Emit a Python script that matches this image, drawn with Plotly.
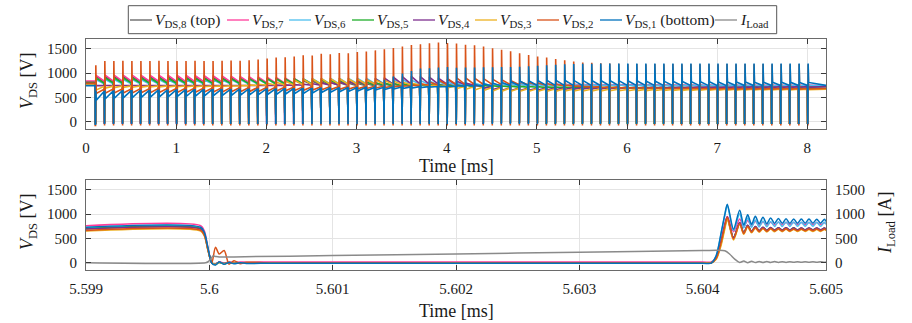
import plotly.graph_objects as go

# ================= DATA =================
names = ["<i>V</i><sub>DS,8</sub> (top)", "<i>V</i><sub>DS,7</sub>", "<i>V</i><sub>DS,6</sub>",
         "<i>V</i><sub>DS,5</sub>", "<i>V</i><sub>DS,4</sub>", "<i>V</i><sub>DS,3</sub>",
         "<i>V</i><sub>DS,2</sub>", "<i>V</i><sub>DS,1</sub> (bottom)"]
iload_name = "<i>I</i><sub>Load</sub>"

# switching instants of the top (ms) plot
pulse_t = [0.1, 0.2, 0.3, 0.4, 0.5, 0.6, 0.7, 0.8, 0.9, 1.0,
           1.1, 1.2, 1.3, 1.4, 1.5, 1.6, 1.7, 1.8, 1.9, 2.0,
           2.1, 2.2, 2.3, 2.4, 2.5, 2.6, 2.7, 2.8, 2.9, 3.0,
           3.1, 3.2, 3.3, 3.4, 3.5, 3.6, 3.7, 3.8, 3.9, 4.0,
           4.1, 4.2, 4.3, 4.4, 4.5, 4.6, 4.7, 4.8, 4.9, 5.0,
           5.1, 5.2, 5.3, 5.4, 5.5, 5.6, 5.7, 5.8, 5.9, 6.0,
           6.1, 6.2, 6.3, 6.4, 6.5, 6.6, 6.7, 6.8, 6.9, 7.0,
           7.1, 7.2, 7.3, 7.4, 7.5, 7.6, 7.7, 7.8, 7.9, 8.0]
t_end = 8.207

# initial voltage (t = 0) of VDS8 ... VDS1
v_init = [820, 835, 770, 805, 785, 760, 790, 740]
# lowest value reached during each on-state, VDS8 ... VDS1
v_on = [-30, -30, -30, -30, -30, -30, -80, -50]

# level right after each turn-off (P) and right before the next turn-on (Q), per device
P8 = [930, 925, 925, 925, 920, 920, 920, 915, 915, 915,
      910, 910, 905, 905, 900, 900, 895, 890, 885, 880,
      870, 860, 850, 840, 830, 820, 810, 800, 790, 785,
      780, 775, 770, 765, 760, 760, 755, 755, 750, 750,
      750, 755, 760, 765, 770, 775, 780, 780, 780, 780,
      775, 775, 770, 770, 765, 765, 760, 760, 760, 755,
      755, 750, 750, 750, 745, 745, 745, 740, 740, 740,
      740, 740, 735, 735, 735, 735, 730, 730, 730, 730]
Q8 = [815, 815, 815, 815, 812, 812, 810, 810, 810, 808,
      806, 805, 803, 800, 798, 795, 792, 790, 788, 785,
      780, 775, 770, 765, 760, 755, 750, 748, 745, 742,
      740, 740, 738, 738, 736, 736, 735, 735, 735, 735,
      735, 736, 738, 740, 742, 744, 745, 745, 745, 745,
      744, 743, 742, 741, 740, 740, 739, 738, 737, 736,
      735, 735, 734, 734, 733, 733, 732, 732, 731, 731,
      730, 730, 730, 730, 729, 729, 729, 728, 728, 728]
P7 = [950, 955, 955, 955, 955, 950, 950, 950, 950, 945,
      945, 940, 940, 935, 930, 925, 920, 915, 910, 905,
      900, 890, 880, 870, 860, 850, 840, 830, 820, 810,
      800, 795, 790, 785, 780, 780, 775, 775, 770, 770,
      770, 770, 770, 770, 770, 770, 770, 770, 770, 770,
      770, 770, 768, 768, 766, 766, 764, 764, 762, 762,
      760, 760, 758, 758, 756, 756, 755, 755, 754, 754,
      753, 753, 752, 752, 751, 751, 750, 750, 750, 750]
Q7 = [835, 838, 838, 838, 836, 836, 835, 835, 834, 833,
      832, 830, 828, 825, 822, 818, 814, 810, 805, 800,
      795, 790, 785, 780, 775, 770, 765, 760, 758, 755,
      752, 750, 748, 746, 745, 744, 743, 742, 741, 740,
      740, 741, 742, 743, 744, 745, 746, 746, 746, 746,
      745, 745, 745, 744, 744, 744, 743, 743, 743, 742,
      742, 742, 741, 741, 741, 740, 740, 740, 740, 739,
      739, 739, 738, 738, 738, 737, 737, 737, 736, 736]
P6 = [860, 865, 865, 865, 865, 862, 860, 860, 858, 858,
      856, 855, 855, 855, 856, 858, 860, 862, 865, 868,
      870, 872, 875, 878, 880, 882, 884, 886, 888, 888,
      886, 882, 878, 870, 860, 850, 840, 830, 820, 810,
      800, 795, 790, 785, 780, 775, 772, 770, 768, 766,
      765, 764, 763, 762, 761, 760, 759, 758, 757, 756,
      755, 755, 754, 754, 753, 753, 752, 752, 751, 751,
      750, 750, 750, 749, 749, 749, 748, 748, 748, 748]
Q6 = [778, 780, 780, 780, 780, 780, 779, 779, 778, 778,
      777, 777, 776, 776, 776, 777, 778, 778, 779, 779,
      780, 781, 782, 783, 784, 785, 786, 787, 788, 788,
      787, 786, 784, 782, 778, 772, 766, 760, 755, 750,
      745, 742, 740, 738, 736, 735, 734, 733, 732, 731,
      730, 730, 730, 730, 730, 730, 730, 730, 730, 730,
      730, 730, 730, 730, 730, 730, 730, 730, 730, 730,
      730, 730, 730, 730, 730, 730, 730, 730, 730, 730]
P5 = [890, 895, 895, 895, 893, 892, 890, 890, 888, 887,
      886, 885, 884, 883, 882, 881, 880, 880, 880, 880,
      880, 878, 875, 870, 865, 858, 850, 840, 830, 820,
      810, 800, 792, 785, 778, 772, 768, 764, 760, 757,
      754, 750, 746, 742, 738, 734, 730, 726, 722, 718,
      715, 712, 710, 708, 706, 705, 704, 703, 702, 701,
      700, 700, 699, 699, 698, 698, 697, 697, 696, 696,
      696, 695, 695, 695, 694, 694, 694, 693, 693, 693]
Q5 = [795, 798, 798, 797, 797, 796, 795, 795, 794, 794,
      793, 792, 791, 790, 789, 788, 787, 786, 785, 784,
      783, 781, 779, 776, 773, 770, 766, 762, 758, 754,
      750, 746, 742, 738, 735, 732, 730, 728, 726, 724,
      722, 720, 718, 716, 714, 712, 710, 708, 706, 704,
      702, 700, 699, 698, 697, 696, 695, 694, 693, 692,
      692, 691, 691, 690, 690, 690, 689, 689, 689, 688,
      688, 688, 688, 687, 687, 687, 687, 686, 686, 686]
P4 = [740, 742, 742, 742, 742, 742, 742, 742, 742, 742,
      742, 742, 742, 742, 742, 743, 744, 745, 746, 748,
      750, 755, 760, 770, 780, 790, 800, 815, 830, 845,
      860, 875, 890, 905, 915, 920, 915, 905, 885, 860,
      830, 790, 740, 690, 660, 645, 640, 640, 645, 650,
      655, 660, 665, 668, 670, 672, 674, 676, 678, 680,
      682, 684, 686, 688, 690, 692, 694, 695, 696, 697,
      698, 699, 700, 701, 702, 703, 704, 705, 706, 707]
Q4 = [742, 742, 742, 742, 742, 742, 742, 742, 742, 742,
      742, 742, 742, 742, 742, 742, 742, 742, 743, 744,
      745, 746, 747, 749, 751, 753, 755, 758, 761, 764,
      768, 772, 776, 780, 782, 783, 782, 780, 776, 770,
      762, 752, 738, 720, 705, 695, 690, 688, 688, 690,
      692, 694, 696, 698, 700, 701, 702, 703, 704, 705,
      706, 707, 708, 709, 710, 711, 712, 713, 714, 715,
      716, 716, 717, 717, 718, 718, 719, 719, 720, 720]
P3 = [650, 690, 700, 705, 708, 710, 712, 714, 715, 716,
      717, 718, 720, 722, 725, 730, 740, 755, 770, 790,
      810, 830, 850, 865, 875, 880, 882, 880, 875, 870,
      862, 855, 845, 830, 810, 790, 770, 745, 720, 700,
      680, 665, 650, 640, 632, 628, 625, 625, 625, 626,
      627, 628, 629, 630, 631, 632, 633, 634, 635, 636,
      637, 638, 639, 640, 641, 642, 643, 644, 645, 646,
      647, 648, 649, 650, 651, 652, 653, 654, 655, 656]
Q3 = [725, 730, 732, 733, 734, 735, 735, 735, 735, 735,
      735, 735, 735, 736, 737, 738, 740, 744, 748, 752,
      756, 760, 765, 770, 774, 777, 779, 780, 780, 779,
      777, 774, 771, 767, 762, 756, 750, 744, 738, 732,
      725, 718, 710, 702, 695, 688, 682, 678, 675, 673,
      671, 670, 669, 668, 667, 666, 665, 665, 664, 664,
      664, 664, 664, 664, 664, 664, 664, 665, 665, 665,
      665, 666, 666, 666, 667, 667, 667, 668, 668, 668]
P2 = [580, 585, 588, 590, 592, 594, 596, 598, 600, 602,
      604, 606, 608, 610, 612, 614, 616, 618, 620, 625,
      630, 635, 640, 645, 650, 655, 660, 665, 670, 675,
      680, 690, 700, 715, 730, 750, 775, 810, 850, 880,
      895, 895, 890, 880, 870, 855, 840, 825, 810, 795,
      780, 765, 750, 735, 720, 710, 700, 695, 690, 686,
      683, 680, 678, 676, 675, 674, 673, 672, 671, 670,
      670, 670, 670, 670, 670, 670, 670, 670, 670, 670]
Q2 = [665, 668, 670, 672, 674, 676, 678, 680, 682, 684,
      686, 688, 690, 692, 694, 696, 698, 700, 702, 704,
      706, 708, 710, 712, 714, 716, 718, 720, 722, 724,
      726, 728, 730, 734, 738, 742, 748, 755, 762, 768,
      772, 774, 774, 772, 770, 766, 762, 758, 754, 750,
      745, 740, 735, 730, 725, 720, 715, 712, 708, 705,
      702, 700, 698, 696, 694, 692, 690, 688, 686, 685,
      684, 684, 683, 683, 682, 682, 681, 681, 680, 680]
P1 = [440, 470, 480, 488, 494, 500, 505, 510, 514, 518,
      522, 526, 530, 534, 538, 542, 546, 550, 554, 558,
      562, 568, 575, 582, 590, 598, 606, 614, 622, 630,
      640, 650, 660, 670, 680, 690, 700, 710, 720, 730,
      740, 750, 760, 775, 790, 805, 820, 830, 838, 842,
      845, 845, 845, 844, 843, 842, 841, 840, 838, 836,
      834, 832, 830, 828, 826, 824, 822, 820, 818, 816,
      815, 814, 813, 812, 811, 810, 809, 808, 807, 806]
Q1 = [620, 628, 632, 636, 640, 643, 646, 649, 652, 655,
      657, 659, 661, 663, 665, 667, 669, 671, 673, 675,
      677, 679, 681, 683, 685, 688, 691, 694, 697, 700,
      703, 706, 709, 712, 715, 718, 720, 722, 724, 726,
      728, 730, 732, 735, 738, 741, 744, 746, 748, 750,
      750, 750, 750, 749, 749, 749, 748, 748, 748, 748,
      747, 747, 747, 746, 746, 746, 745, 745, 745, 745,
      745, 745, 745, 745, 745, 745, 745, 745, 745, 745]
# turn-off overshoot peaks of VDS2 and VDS1
peak2 = [1160, 1248, 1245, 1250, 1245, 1248, 1245, 1250, 1245, 1248,
         1245, 1250, 1245, 1248, 1250, 1255, 1250, 1262, 1275, 1296,
         1320, 1325, 1340, 1365, 1360, 1395, 1385, 1410, 1405, 1430,
         1440, 1465, 1488, 1515, 1543, 1575, 1590, 1612, 1625, 1615,
         1605, 1580, 1570, 1545, 1510, 1478, 1448, 1408, 1368, 1340,
         1318, 1290, 1262, 1238, 1216, 1212, 1202, 1195, 1188, 1185,
         1185, 1182, 1185, 1182, 1185, 1182, 1185, 1182, 1185, 1182,
         1185, 1182, 1185, 1182, 1185, 1182, 1185, 1182, 1185, 1182]
peak1 = [630, 640, 645, 650, 652, 655, 658, 660, 662, 665,
         667, 669, 671, 673, 675, 677, 679, 681, 683, 685,
         687, 689, 691, 693, 695, 698, 701, 704, 707, 710,
         720, 760, 860, 930, 988, 1040, 1090, 1097, 1111, 1125,
         1110, 1112, 1115, 1118, 1120, 1122, 1125, 1130, 1140, 1150,
         1160, 1170, 1178, 1185, 1190, 1192, 1193, 1193, 1194, 1194,
         1193, 1194, 1195, 1193, 1194, 1195, 1193, 1194, 1195, 1193,
         1194, 1195, 1193, 1194, 1195, 1193, 1194, 1195, 1193, 1194]

P_all = [P8, P7, P6, P5, P4, P3, P2, P1]
Q_all = [Q8, Q7, Q6, Q5, Q4, Q3, Q2, Q1]
peak_all = [None, None, None, None, None, None, peak2, peak1]

# zoomed switching period (bottom plot)
bot_t = [5.599, 5.59993, 5.59996, 5.59999, 5.60002, 5.60005, 5.60008, 5.60012, 5.60016, 5.6002,
         5.60025, 5.6003, 5.6005, 5.601, 5.602, 5.603, 5.604, 5.60407, 5.60411, 5.60415,
         5.60418, 5.6042, 5.60425, 5.6043, 5.604333, 5.604365, 5.604396, 5.604427, 5.604458, 5.604489,
         5.60452, 5.604551, 5.604583, 5.604614, 5.604645, 5.604676, 5.604707, 5.604738, 5.604769, 5.6048,
         5.604831, 5.604862, 5.604894, 5.604925, 5.604956, 5.604987, 5.605]
b8 = [712, 712, 600, 270, 0, -30, 10, -15, 5, -10, 0, -5, 0, 0, 0, 0, 0, 0, 100, 420, 760, 925,
      520, 830, 620, 770, 650, 745, 662, 733, 668, 726, 672, 722, 674, 720, 675, 718, 676, 717, 677, 716, 677, 716, 678, 715, 695]
b7 = [762, 762, 650, 300, 0, -30, 20, -10, 15, 5, 15, 10, 15, 15, 15, 15, 15, 15, 120, 480, 800, 950,
      640, 900, 735, 870, 755, 852, 765, 842, 772, 836, 776, 832, 778, 830, 780, 828, 782, 827, 783, 826, 784, 826, 785, 825, 805]
b6 = [722, 722, 610, 280, -5, -35, 10, -20, 5, -10, 0, -5, 0, 0, 0, 0, 0, 0, 140, 600, 980, 1180,
      660, 1010, 715, 920, 730, 880, 738, 860, 742, 850, 745, 843, 747, 840, 748, 838, 749, 836, 750, 835, 750, 834, 750, 833, 790]
b5 = [702, 702, 590, 260, 0, -35, 5, -20, 5, -10, 0, -5, 0, 0, 0, 0, 0, 0, 90, 400, 740, 915,
      505, 815, 610, 760, 640, 735, 652, 722, 658, 715, 662, 712, 664, 710, 665, 708, 666, 707, 667, 706, 667, 706, 668, 705, 685]
b4 = [692, 692, 585, 255, 0, -30, 10, -15, 5, -10, 0, -5, 0, 0, 0, 0, 0, 0, 110, 450, 790, 945,
      515, 830, 615, 770, 645, 745, 657, 732, 663, 725, 667, 721, 669, 719, 670, 717, 671, 716, 672, 715, 672, 715, 673, 714, 690]
b3 = [652, 652, 550, 240, 0, -35, 5, -20, 0, -10, 0, -5, 0, 0, 0, 0, 0, 0, 70, 360, 700, 895,
      470, 790, 585, 735, 615, 712, 628, 700, 634, 693, 638, 689, 640, 687, 641, 685, 642, 684, 643, 683, 643, 683, 644, 682, 660]
b2 = [666, 666, 560, 250, -10, 320, 180, 250, -30, 40, -20, 10, -5, 0, -5, 0, -5, -5, 90, 420, 760, 935,
      490, 805, 600, 750, 630, 725, 642, 712, 648, 705, 652, 701, 654, 699, 655, 697, 656, 696, 657, 695, 657, 695, 658, 694, 675]
b1 = [730, 730, 620, 290, -10, -45, 15, -30, 5, -20, 0, -15, -10, -12, -10, -12, -10, -10, 150, 620, 1000, 1205,
      690, 1080, 775, 990, 790, 955, 800, 935, 805, 920, 810, 912, 812, 905, 812, 902, 812, 900, 815, 898, 815, 896, 815, 895, 850]
b_all = [b8, b7, b6, b5, b4, b3, b2, b1]

iload_t = [5.599, 5.59997, 5.59999, 5.60001, 5.60003, 5.60005, 5.60008, 5.6002, 5.601, 5.602,
           5.603, 5.604, 5.60412, 5.60418, 5.60422, 5.60426, 5.6043, 5.604333, 5.604365, 5.604396,
           5.604427, 5.604458, 5.604489, 5.60452, 5.604551, 5.604583, 5.604614, 5.604645, 5.604676, 5.604707,
           5.604738, 5.604769, 5.6048, 5.604831, 5.604862, 5.604894, 5.604925, 5.604956, 5.604987, 5.605]
iload = [0, 0, 20, 70, 140, 130, 118, 120, 148, 182,
         216, 250, 256, 245, 175, 75, 5, 35, 0, 30,
         2, 27, 4, 25, 5, 23, 6, 22, 7, 21,
         8, 20, 8, 19, 9, 19, 9, 18, 9, 14]

# ================= STYLE =================
colors = ["#5f5f5f", "#ff3c9b", "#4dbeee", "#1fae2a", "#7e2f8e", "#edb120", "#d95319", "#0072bd"]
iload_color = "#8a8a8a"
W, H = 912, 323
FONT = "Liberation Serif"
TXT = "#1a1a1a"

def px(x):
    return x / W

def py(y):
    return 1 - y / H

fig = go.Figure()

# ---- top plot traces ----
for s in range(8):
    xs, ys = [0.0], [v_init[s]]
    prev = v_init[s]
    for k, t in enumerate(pulse_t):
        pk = peak_all[s][k] if peak_all[s] is not None else P_all[s][k]
        xs += [t, t + 0.002, t + 0.006, t + 0.009, t + 0.014]
        ys += [prev, v_on[s], v_on[s], pk, P_all[s][k]]
        prev = Q_all[s][k]
    xs.append(t_end)
    ys.append(prev)
    fig.add_trace(go.Scatter(x=xs, y=ys, mode="lines", name=names[s],
                             line=dict(color=colors[s], width=1.6),
                             xaxis="x", yaxis="y", showlegend=False))

# ---- bottom plot traces ----
for s in range(8):
    fig.add_trace(go.Scatter(x=bot_t, y=b_all[s], mode="lines", name=names[s],
                             line=dict(color=colors[s], width=1.5, shape="spline", smoothing=0.8),
                             xaxis="x2", yaxis="y2", showlegend=False))
fig.add_trace(go.Scatter(x=iload_t, y=iload, mode="lines", name=iload_name,
                         line=dict(color=iload_color, width=1.5, shape="spline", smoothing=0.8),
                         xaxis="x2", yaxis="y3", showlegend=False))

axis_common = dict(showline=True, linecolor="#6a6a6a", linewidth=1, mirror="ticks",
                   ticks="inside", ticklen=5, tickcolor="#3a3a3a", tickwidth=1,
                   showgrid=True, gridcolor="#e4e4e4", gridwidth=1, zeroline=False,
                   automargin=False,
                   tickfont=dict(family=FONT, size=15, color=TXT))

xdom = [px(86), px(826)]
fig.update_layout(
    width=W, height=H, margin=dict(l=0, r=0, t=0, b=0, pad=0, autoexpand=False),
    paper_bgcolor="white", plot_bgcolor="white", showlegend=False,
    font=dict(family=FONT, size=15, color=TXT),
    xaxis=dict(domain=xdom, range=[0, t_end], tick0=0, dtick=1, anchor="y",
               ticklabelstandoff=5, **axis_common),
    yaxis=dict(domain=[py(128.7), py(38.7)], range=[-145, 1705], tick0=0, dtick=500,
               anchor="x", ticklabelstandoff=5, **axis_common),
    xaxis2=dict(domain=xdom, range=[5.599, 5.605], tick0=5.599, dtick=0.001, anchor="y2",
                ticklabelstandoff=5, **axis_common),
    yaxis2=dict(domain=[py(270), py(179.7)], range=[-150, 1710], tick0=0, dtick=500,
                anchor="x2", ticklabelstandoff=5, **axis_common),
    yaxis3=dict(overlaying="y2", side="right", anchor="x2", range=[-150, 1710], tick0=0, dtick=500,
                showline=True, linecolor="#6a6a6a", ticks="inside", ticklen=5, tickcolor="#3a3a3a",
                showgrid=False, zeroline=False, ticklabelstandoff=5, automargin=False,
                tickfont=dict(family=FONT, size=15, color=TXT)),
)

# ---- axis titles ----
ann = []
ann.append(dict(text="<i>V</i><sub>DS</sub> [V]", x=px(28), y=py(81), textangle=-90,
                font=dict(size=18)))
ann.append(dict(text="<i>V</i><sub>DS</sub> [V]", x=px(28), y=py(222), textangle=-90,
                font=dict(size=18)))
ann.append(dict(text="<i>I</i><sub>Load</sub> [A]", x=px(886), y=py(223), textangle=-90,
                font=dict(size=18)))
ann.append(dict(text="Time [ms]", x=px(456), y=py(166), font=dict(size=18)))
ann.append(dict(text="Time [ms]", x=px(456), y=py(311), font=dict(size=18)))
for a in ann:
    a.update(xref="paper", yref="paper", showarrow=False, xanchor="center", yanchor="middle")
    a["font"].update(family=FONT, color=TXT)
    fig.add_annotation(**a)

# ---- legend (drawn box) ----
leg_labels = names + [iload_name]
leg_colors = colors + [iload_color]
leg_line_x = [130, 227, 289, 352, 413, 475, 537, 600, 715]
fig.add_shape(type="rect", xref="paper", yref="paper", x0=px(128.3), x1=px(776.7),
              y0=py(33.7), y1=py(5.7), line=dict(color="#555555", width=1), fillcolor="white")
for lab, col, lx in zip(leg_labels, leg_colors, leg_line_x):
    fig.add_shape(type="line", xref="paper", yref="paper", x0=px(lx), x1=px(lx + 22),
                  y0=py(20), y1=py(20), line=dict(color=col, width=1.3))
    fig.add_annotation(text=lab, xref="paper", yref="paper", x=px(lx + 23), y=py(20),
                       xanchor="left", yanchor="middle", showarrow=False,
                       font=dict(family=FONT, size=15.5, color=TXT))

fig.write_html("out.html")
